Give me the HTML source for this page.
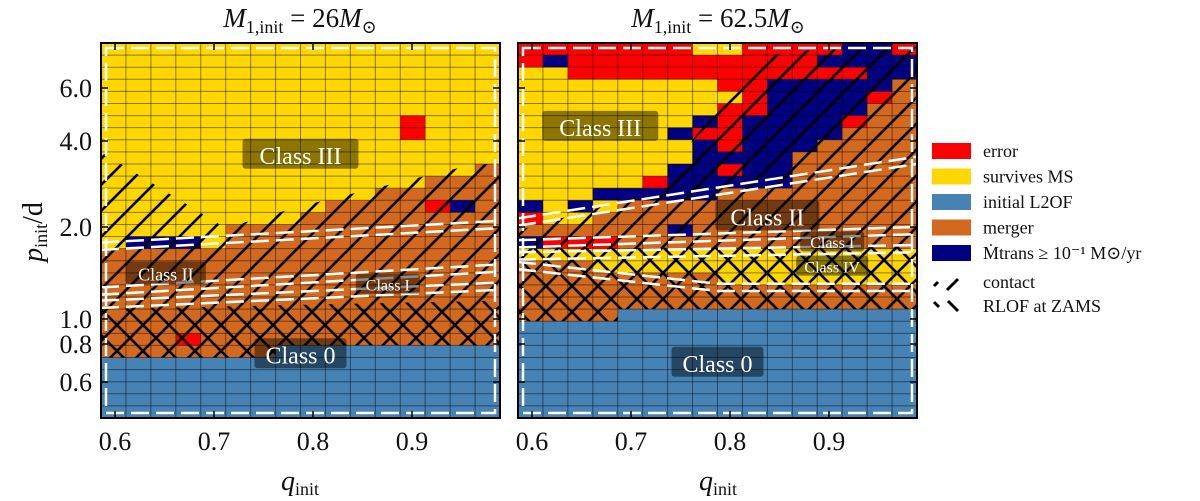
<!DOCTYPE html>
<html><head><meta charset="utf-8">
<style>
html,body{margin:0;padding:0;background:#fff;width:1200px;height:501px;overflow:hidden}
svg text{font-family:"Liberation Serif","DejaVu Serif",serif;fill:#111}
</style></head>
<body>
<svg id="fig" width="1200" height="501" viewBox="0 0 1200 501" xmlns="http://www.w3.org/2000/svg">
<defs>
<pattern id="hatchC" patternUnits="userSpaceOnUse" width="26" height="26">
<path d="M-6.5,6.5 l13,-13 M0,26 l26,-26 M19.5,32.5 l13,-13" stroke="#000" stroke-width="2.6"/>
</pattern>
<pattern id="hatchX" patternUnits="userSpaceOnUse" width="26" height="26">
<path d="M0,26 l26,-26 M-6.5,6.5 l13,-13 M19.5,32.5 l13,-13 M0,0 l26,26 M-6.5,19.5 l13,13 M19.5,-6.5 l13,13" stroke="#000" stroke-width="2.6"/>
</pattern>
</defs>
<g id="panels"></g>
<text x="300" y="27" text-anchor="middle" font-size="27" font-style="italic">M<tspan font-size="18" font-style="normal" dy="6">1,init</tspan><tspan dy="-6" font-style="normal"> = 26</tspan>M<tspan font-size="18" font-style="normal" dy="6">⊙</tspan></text>
<text x="718" y="27" text-anchor="middle" font-size="27" font-style="italic">M<tspan font-size="18" font-style="normal" dy="6">1,init</tspan><tspan dy="-6" font-style="normal"> = 62.5</tspan>M<tspan font-size="18" font-style="normal" dy="6">⊙</tspan></text>
<text x="300" y="490" text-anchor="middle" font-size="28" font-style="italic">q<tspan font-size="18" font-style="normal" dy="5">init</tspan></text>
<text x="718" y="490" text-anchor="middle" font-size="28" font-style="italic">q<tspan font-size="18" font-style="normal" dy="5">init</tspan></text>
<text transform="translate(42,232) rotate(-90)" text-anchor="middle" font-size="28" font-style="italic">p<tspan font-size="18" font-style="normal" dy="5">init</tspan><tspan font-style="normal" dy="-5">/d</tspan></text>
<g id="legend"></g>
</svg>
<script>
const colors={Y:'#FFD700',O:'#D2691E',B:'#4682B4',N:'#000080',R:'#FF0000'};
const xTicks=[0.6,0.7,0.8,0.9];
const yTicks=[6.0,4.0,2.0,1.0,0.8,0.6];
const yTickPix=[88,141,227,319,344,382];
const leftGrid=[
"YYYYYYYYYYYYYYYY","YYYYYYYYYYYYYYYY","YYYYYYYYYYYYYYYY","YYYYYYYYYYYYYYYY","YYYYYYYYYYYYYYYY","YYYYYYYYYYYYYYYY",
"YYYYYYYYYYYYRYYY","YYYYYYYYYYYYRYYY","YYYYYYYYYYYYYYYY","YYYYYYYYYYYYYYYY",
"YYYYYYYYYYYYYYYO","YYYYYYYYYYYYYOOO","YYYYYYYYYYYOOOOO","YYYYYYYYYOOOORNO","YYYYYYYYOOOOOOOO",
"YYYYYOOOOOOOOOOO","YNNNYOOOOOOOOOOO",
"OOOOOOOOOOOOOOOO","OOOOOOOOOOOOOOOO","OOOOOOOOOOOOOOOO","OOOOOOOOOOOOOOOO","OOOOOOOOOOOOOOOO","OOOOOOOOOOOOOOOO","OOOOOOOOOOOOOOOO",
"OOOROOOOOOOOOOOO","OOOOOOOBBBBBBBBB",
"BBBBBBBBBBBBBBBB","BBBBBBBBBBBBBBBB","BBBBBBBBBBBBBBBB","BBBBBBBBBBBBBBBB","BBBBBBBBBBBBBBBB"];
const rightGrid=[
"RRRRRRRYYRRRRNNR","RNRRRRRRRRRRNNNN","YYRRRRRRRRRRRRNN","YYYYYYYYRRNNNNNO","YYYYYYYYYRNNNNRO",
"YYYYYYYYRRNNNNOO","YYYYYYYNRNNNNROO","YYYYYYNRRNNNNOOO","YYYYYYYNRNNNOOOO","YYYYYYYNNNNOOOOO",
"YYYYYYNNRNNOOOOO","YYYYYRNNNNNOOOOO","YYYNNNNNOOOOOOOO","NYNYOOOOOOOOOOOO","RYYOOOOOOOOOOOOO",
"OOOOOONOOOOOOOOO","NRRROOOOOOOOOOOO","YYYYYYYYYYYYYYYY","OOOYYYYYYYYYYYYY","OOOOOOOOYYYYYYYY",
"OOOOOOOOOOOOOOOO","OOOOOOOOOOOOOOOO","OOOOBBBBBBBBBBBB",
"BBBBBBBBBBBBBBBB","BBBBBBBBBBBBBBBB","BBBBBBBBBBBBBBBB","BBBBBBBBBBBBBBBB","BBBBBBBBBBBBBBBB","BBBBBBBBBBBBBBBB","BBBBBBBBBBBBBBBB","BBBBBBBBBBBBBBBB"];
const leftContact=[[0,9],[5,15.3],[8,13.5],[13,11],[15,10],[16,10],[16,21.3],[0,22]];
const leftCross=[[0,22],[16,21.3],[16,25],[7,25],[7,26],[0,26]];
const rightContact=[[0,17],[0,15.5],[6,12],[7,8],[9,3],[10,1],[13,0.3],[16,0.3],[16,17]];
const rightCross=[[0,17],[16,16.8],[16,22],[4,22],[4,23],[0,23]];
const leftLines=[[[0,16.8],[16,15]],[[0,20.5],[16,18.6]],[[0,21.6],[16,20.1]]];
const rightLines=[[[0,14.8],[16,9.7]],[[0,16.6],[16,15.5]],[[0,17.6],[16,17]],[[0,18.4],[8,20.2],[16,20.2]]];
const leftLabels=[["Class III",8,9.3,24],["Class II",2.6,19.1,18],["Class I",11.5,20,16],["Class 0",8,25.8,24]];
const rightLabels=[["Class III",3.3,7,24],["Class II",10,14.4,24],["Class I",12.6,16.5,16],["Class IV",12.6,18.5,16],["Class 0",8,26.5,24]];

const NS='http://www.w3.org/2000/svg';
function mk(t,a,p){const e=document.createElementNS(NS,t);for(const k in a)e.setAttribute(k,a[k]);p.appendChild(e);return e;}
const panels=document.getElementById('panels');
function panel(name,x0,grid,contact,cross,lines,labels){
  const W=399,H=375,y0=43,nc=16,nr=31,cw=W/nc,rh=H/nr;
  const g=mk('g',{},panels);
  
  
  const X=c=>x0+c*cw, Y=r=>y0+r*rh;
  const xs=q=>x0+14+(q-0.6)*990;
  grid.forEach((row,r)=>{for(let c=0;c<nc;c++){
    const cell=mk('rect',{x:X(c),y:Y(r),width:cw+0.5,height:rh+0.5,fill:colors[row[c]]},g);
    
    
  }});
  for(let c=1;c<nc;c++)mk('line',{x1:X(c),x2:X(c),y1:y0,y2:y0+H,stroke:'#000','stroke-opacity':0.45,'stroke-width':1},g);
  for(let r=1;r<nr;r++)mk('line',{x1:x0,x2:x0+W,y1:Y(r),y2:Y(r),stroke:'#000','stroke-opacity':0.45,'stroke-width':1},g);
  const pts=a=>a.map(p=>X(p[0])+','+Y(p[1])).join(' ');
  const h1=mk('polygon',{points:pts(contact),fill:'url(#hatchC)'},g);
  
  
  const h2=mk('polygon',{points:pts(cross),fill:'url(#hatchX)'},g);
  
  
  mk('rect',{x:x0+5,y:y0+5,width:W-10,height:H-10,fill:'none',stroke:'#fff','stroke-width':2.5,'stroke-dasharray':'18,7'},g);
  lines.forEach(l=>{[-0.3,0.3].forEach(o=>{
    const pl=mk('polyline',{points:l.map(p=>X(p[0])+','+(Y(p[1])+o*rh)).join(' '),fill:'none',stroke:'#fff','stroke-width':2.5,'stroke-dasharray':'18,7'},g);
    
    
  });});
  labels.forEach(L=>{
    const fs=L[3];const w=L[0].length*fs*0.5+8;
    mk('rect',{x:X(L[1])-w/2,y:Y(L[2])-fs*0.7,width:w,height:fs*1.25,rx:3,fill:'#000','fill-opacity':0.45},g);
    const t=mk('text',{x:X(L[1]),y:Y(L[2])+fs*0.35,'text-anchor':'middle','font-size':fs,style:'fill:#fff'},g);
    t.textContent=L[0];
    
    
  });
  mk('rect',{x:x0,y:y0,width:W,height:H,fill:'none',stroke:'#000','stroke-width':2},g);
  xTicks.forEach(q=>{
    mk('line',{x1:xs(q),x2:xs(q),y1:y0+H,y2:y0+H-7,stroke:'#000','stroke-width':1.5},g);
    mk('line',{x1:xs(q),x2:xs(q),y1:y0,y2:y0+7,stroke:'#000','stroke-width':1.5},g);
    const t=mk('text',{x:xs(q),y:450,'text-anchor':'middle','font-size':26},g);
    t.textContent=q.toFixed(1);
    
    
  });
  yTicks.forEach((v,i)=>{
    mk('line',{x1:x0,x2:x0+7,y1:yTickPix[i],y2:yTickPix[i],stroke:'#000','stroke-width':1.5},g);
    mk('line',{x1:x0+W,x2:x0+W-7,y1:yTickPix[i],y2:yTickPix[i],stroke:'#000','stroke-width':1.5},g);
  });
}
panel('left-panel',101,leftGrid,leftContact,leftCross,leftLines,leftLabels);
panel('right-panel',518,rightGrid,rightContact,rightCross,rightLines,rightLabels);
yTicks.forEach((v,i)=>{
  const t=mk('text',{x:92,y:yTickPix[i]+9,'text-anchor':'end','font-size':26},panels);
  t.textContent=v.toFixed(1);
  
  
});
const leg=document.getElementById('legend');
const legItems=[['R','error'],['Y','survives MS'],['B','initial L2OF'],['O','merger'],['N','Ṁtrans ≥ 10⁻¹ M⊙/yr']];
legItems.forEach((it,i)=>{
  const y=143+i*25.5;
  const r=mk('rect',{x:932,y:y,width:39,height:16,fill:colors[it[0]]},leg);
  
  
  const t=mk('text',{x:983,y:y+14,'font-size':18},leg);
  t.textContent=it[1];
  
  
});
mk('path',{d:'M934,286 l4,-4 M947,290 l11,-11',stroke:'#000','stroke-width':3},leg);
mk('path',{d:'M934,302 l5,5 M948,301 l10,10',stroke:'#000','stroke-width':3},leg);
[['contact',288],['RLOF at ZAMS',312]].forEach(a=>{
  const t=mk('text',{x:983,y:a[1],'font-size':18},leg);
  t.textContent=a[0];
  
  
});
</script>
</body></html>
